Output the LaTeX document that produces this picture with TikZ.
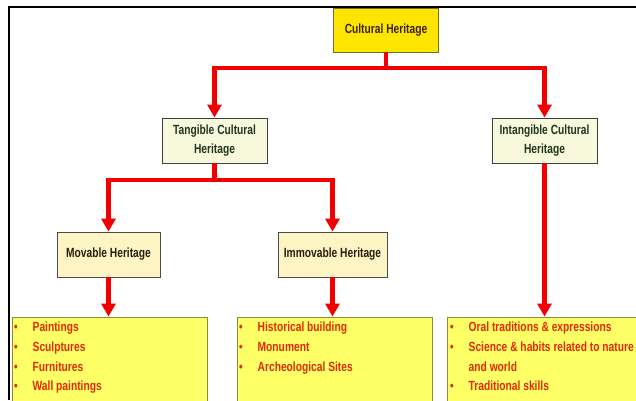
\documentclass[tikz,border=0pt]{standalone}
\usepackage{fontspec}
\setmainfont{Liberation Sans}[FakeStretch=0.77]
\usetikzlibrary{arrows.meta}
\definecolor{chfill}{HTML}{FFE600}
\definecolor{chline}{HTML}{7A6A30}
\definecolor{chtext}{HTML}{3B2200}
\definecolor{tfill}{HTML}{F8F8DC}
\definecolor{ttext}{HTML}{1F361F}
\definecolor{mfill}{HTML}{FFF4C4}
\definecolor{mtext}{HTML}{2A1E10}
\definecolor{lfill}{HTML}{FFFF66}
\definecolor{lline}{HTML}{8A8A40}
\definecolor{ltext}{HTML}{E22A0A}
\definecolor{arrred}{HTML}{F20000}
\newcommand{\lbul}{\makebox[18.5pt][l]{\textbullet}}
\begin{document}
\begin{tikzpicture}[x=1pt,y=-1pt,
  box/.style={draw, line width=0.9pt, minimum height=45pt, align=center,
    font=\bfseries\fontsize{13.3}{19}\selectfont},
  leaf/.style={draw=lline, fill=lfill, line width=1pt, minimum height=100pt},
  leaftext/.style={anchor=north west, inner sep=0pt, align=left, text=ltext,
    font=\bfseries\fontsize{13.3}{19.6}\selectfont},
  redline/.style={draw=arrred, line width=4.5pt},
  redarrow/.style={redline, -{Triangle[width=14pt,length=13pt]}}]
\useasboundingbox (0,0) rectangle (636,400);
% frame
\draw[line width=1.3pt] (9,400) -- (9,7) -- (636,7);
% boxes
\node[box, draw=chline, fill=chfill, text=chtext, minimum width=105pt, minimum height=44pt] (ch) at (386,30) {Cultural Heritage};
\node[box, draw=black!75, fill=tfill, text=ttext, minimum width=105pt] (tch) at (214.5,140.5) {Tangible Cultural\\Heritage};
\node[box, draw=black!75, fill=tfill, text=ttext, minimum width=105pt] (ich) at (544.5,140.5) {Intangible Cultural\\Heritage};
\node[box, draw=black!70, fill=mfill, text=mtext, minimum width=103pt] (mh) at (108.5,254.5) {Movable Heritage};
\node[box, draw=black!70, fill=mfill, text=mtext, minimum width=109pt] (ih) at (332.5,254.5) {Immovable Heritage};
% leaves
\node[leaf, minimum width=195pt] (ml) at (109.5,367) {};
\node[leaf, minimum width=195pt] (il) at (334.5,367) {};
\node[leaf, minimum width=200pt] (cl) at (547,367) {};
\node[leaftext] (mlt) at (14,322) {\lbul Paintings\\\lbul Sculptures\\\lbul Furnitures\\\lbul Wall paintings};
\node[leaftext] (ilt) at (239,322) {\lbul Historical building\\\lbul Monument\\\lbul Archeological Sites};
\node[leaftext] (clt) at (450,322) {\lbul Oral traditions \& expressions\\\lbul Science \& habits related to nature\\\hspace*{18.5pt}and world\\\lbul Traditional skills};
% connectors
\coordinate (j1) at (386,68);
\coordinate (j2) at (214.5,180);
\draw[redline] (ch.south) -- (j1);
\draw[redarrow] (j1) -| (tch.north);
\draw[redarrow] (j1) -| (ich.north);
\draw[redline] (tch.south) -- (j2);
\draw[redarrow] (j2) -| (mh.north);
\draw[redarrow] (j2) -| (ih.north);
\draw[redarrow] (mh.south) -- (mh.south |- ml.north);
\draw[redarrow] (ih.south) -- (ih.south |- il.north);
\draw[redarrow] (ich.south) -- (ich.south |- cl.north);
\end{tikzpicture}
\end{document}
